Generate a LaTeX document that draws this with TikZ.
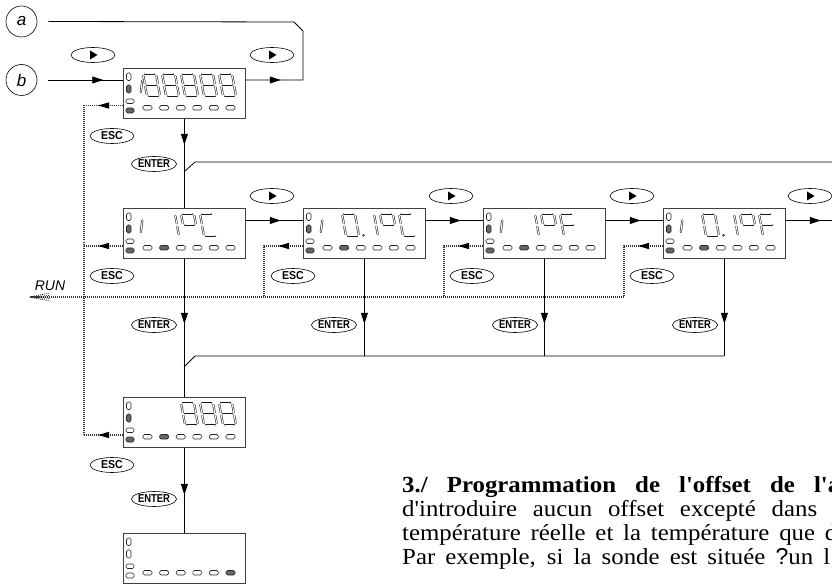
\documentclass[tikz,border=0pt]{standalone}
\usepackage{fontspec}
\setmainfont{Liberation Serif}[Ligatures=TeXOff]
\setsansfont{Liberation Sans}
\newfontfamily\btnfont{Liberation Sans}[FakeStretch=0.82]
\newfontfamily\escfont{Liberation Sans}[FakeStretch=0.92]
\usetikzlibrary{shapes.geometric,arrows.meta,decorations.markings}

\tikzset{
  dispbox/.style={draw=black!75, line width=0.8pt, minimum width=122pt, minimum height=50pt, inner sep=0pt, anchor=north west},
  btn/.style={ellipse, draw, line width=0.6pt, minimum width=44pt, minimum height=15pt, inner sep=0pt},
  enterbtn/.style={btn, font=\btnfont\bfseries\fontsize{11.5}{11.5}\selectfont},
  escbtn/.style={btn, font=\escfont\bfseries\fontsize{11.5}{11.5}\selectfont},
  circ/.style={circle, draw, line width=0.6pt, minimum size=31pt, inner sep=0pt, font=\sffamily\itshape\fontsize{17}{17}\selectfont},
  flow/.style={line width=0.8pt},
  flowarrow/.style={flow, postaction={decorate}, decoration={markings, mark=at position #1 with {\arrow{Triangle[length=11pt,width=7pt]}}}},
  escline/.style={draw=black!80, line width=1.1pt, dash pattern=on 1pt off 1pt},
  escarrow/.style={escline, postaction={decorate}, decoration={markings, mark=at position #1 with {\arrow[black]{Triangle[length=11pt,width=6pt]}}}},
  seg/.style={draw=black!90, line width=0.55pt, double=white, double distance=1pt, line cap=round},
  segdot/.style={draw=black!90, line width=0.55pt},
  ledo/.style={draw=black!85, line width=0.6pt, fill=white, rounded corners=1.5pt},
  ledf/.style={draw=black!85, line width=0.6pt, fill=black!60, rounded corners=1.5pt},
  txt/.style={anchor=base west, inner sep=0pt},
  bodyfont/.style={font=\fontsize{23}{24}\selectfont\addfontfeature{FakeStretch=1.08}},
  headfont/.style={font=\fontsize{23}{24}\selectfont\bfseries\addfontfeature{FakeStretch=1.08}},
}

\def\SGa{\draw[seg] (1.8,22) -- (11.2,22);}
\def\SGb{\draw[seg] (13,20.2) -- (13,12.7);}
\def\SGc{\draw[seg] (13,9.3) -- (13,1.8);}
\def\SGd{\draw[seg] (1.8,0) -- (11.2,0);}
\def\SGe{\draw[seg] (0,1.8) -- (0,9.3);}
\def\SGf{\draw[seg] (0,12.7) -- (0,20.2);}
\def\SGg{\draw[seg] (1.8,11) -- (11.2,11);}
\newcommand\sevdig[2]{\begin{scope}[shift={(#1,28)},yscale=-1,xslant=0.18]\foreach \s in {#2}{\csname SG\s\endcsname}\end{scope}}
\newcommand\smallone{\draw[seg] (17.8,24) -- (19.3,12.5);}
\newcommand\dpoint[1]{\draw[segdot] (#1,27.3) circle (0.9);}

\newcommand\disppanel[4]{%
\begin{scope}[shift={(#1.north west)}]
 \draw[ledo] (3.5,5) rectangle (8,12.5);
 \ifnum#2=1 \draw[ledf] (3.5,17) rectangle (8,25);\else\draw[ledo] (3.5,17) rectangle (8,25);\fi
 \draw[ledo] (3,31) rectangle (11,35.5);
 \ifnum#2=1 \draw[ledf] (3,40) rectangle (11,45);\else\draw[ledo] (3,40) rectangle (11,45);\fi
 \foreach \i in {1,...,6}{\pgfmathsetmacro\lx{20+16.6*(\i-1)}%
   \ifnum\i=#3 \draw[ledf] (\lx,37.5) rectangle ++(9,4.5);\else\draw[ledo] (\lx,37.5) rectangle ++(9,4.5);\fi}
 #4
\end{scope}}

\begin{document}
\begin{tikzpicture}[x=1pt,y=-1pt]
\useasboundingbox (0,0) rectangle (832,585);
\fill[white] (0,0) rectangle (832,585);
\clip (0,0) rectangle (832,585);

% displays
\node[dispbox] (d1) at (123,68) {};
\node[dispbox] (d2) at (123,208) {};
\node[dispbox] (d3) at (303,208) {};
\node[dispbox] (d4) at (483,208) {};
\node[dispbox] (d5) at (663,208) {};
\node[dispbox] (d6) at (123,397) {};
\node[dispbox] (d7) at (123,533) {};

\disppanel{d1}{1}{0}{\smallone\sevdig{24}{a,b,c,d,e,f,g}\sevdig{43}{a,b,c,d,e,f,g}\sevdig{62}{a,b,c,d,e,f,g}\sevdig{81}{a,b,c,d,e,f,g}\sevdig{100}{a,b,c,d,e,f,g}}
\disppanel{d2}{1}{2}{\smallone\sevdig{43}{b,c}\sevdig{62}{a,b,f,g}\sevdig{81}{a,d,e,f}}
\disppanel{d3}{1}{2}{\smallone\sevdig{43}{a,b,c,d,e,f}\dpoint{60.5}\sevdig{62}{b,c}\sevdig{81}{a,b,f,g}\sevdig{100}{a,d,e,f}}
\disppanel{d4}{1}{2}{\smallone\sevdig{43}{b,c}\sevdig{62}{a,b,f,g}\sevdig{81}{a,e,f,g}}
\disppanel{d5}{1}{2}{\smallone\sevdig{43}{a,b,c,d,e,f}\dpoint{60.5}\sevdig{62}{b,c}\sevdig{81}{a,b,f,g}\sevdig{100}{a,e,f,g}}
\disppanel{d6}{1}{2}{\sevdig{62}{a,b,c,d,e,f,g}\sevdig{81}{a,b,c,d,e,f,g}\sevdig{100}{a,b,c,d,e,f,g}}
\disppanel{d7}{0}{6}{}

% entry circles
\node[circ] (a) at (21.5,21.5) {a};
\node[circ] (b) at (21.5,80) {b};

% buttons
\foreach \n/\x/\y in {p0/93/55, p1/272/55, p2/272/196, p3/451/196, p4/632/196, p5/810/196}{
  \node[btn] (\n) at (\x,\y) {};
  \fill (\n.center) ++(-3,-4.5) -- ++(0,9) -- ++(7.5,-4.5) -- cycle;
}
\foreach \n/\x/\y in {e1/112/136, e2/112/276, e3/293/276, e4/472/276, e5/652/276, e6/112/465}{
  \node[escbtn] (\n) at (\x,\y) {ESC};
}
\foreach \n/\x/\y in {n1/154/164, n2/154/325, n3/334/325, n4/515/325, n5/695/325, n6/154/499}{
  \node[enterbtn] (\n) at (\x,\y) {ENTER};
}

% solid flows
\coordinate (aout) at ([xshift=11pt]a.east);
\coordinate (bout) at ([xshift=11pt]b.east);
\coordinate (d1in) at ([yshift=-12pt]d1.north west);
\coordinate (d1out) at ([yshift=-12pt]d1.north east);
\coordinate (c1) at (303,80);
\coordinate (c2) at (303,31);
\coordinate (c3) at (294,22);
\draw[flowarrow=55pt] (bout) -- (d1in);
\draw[flowarrow=35pt] (d1out) -- (c1) -- (c2) -- (c3) -- (aout);

\draw[flowarrow=26pt] (d1.south) -- (d2.north);
\coordinate (br1) at (184,172);
\coordinate (br2) at (195,162);
\coordinate (br3) at (832,162);
\draw[flow] (br1) -- (br2) -- (br3);

\foreach \s/\t in {d2/d3, d3/d4, d4/d5}{
  \draw[flowarrow=35pt] ([yshift=-12.5pt]\s.north east) -- ([yshift=-12.5pt]\t.north west);
}
\coordinate (rowend) at (832,220.5);
\draw[flowarrow=35pt] ([yshift=-12.5pt]d5.north east) -- (rowend);

\draw[flowarrow=65pt] (d2.south) -- (d6.north);
\coordinate (m1) at (184,367);
\coordinate (m2) at (195,356);
\coordinate (m3) at (724,356);
\draw[flow] (m1) -- (m2) -- (m3);
\foreach \s in {d3,d4,d5}{
  \draw[flowarrow=65pt] (\s.south) -- (\s.south |- m2);
}
\draw[flowarrow=47pt] (d6.south) -- (d7.north);

% ESC (dotted) flows
\coordinate (Lx) at (84,0);
\coordinate (Ry) at (0,297);
\coordinate (x1) at ([yshift=-37.5pt]d1.north west);
\coordinate (x2) at ([yshift=-38pt]d2.north west);
\coordinate (x6) at ([yshift=-38pt]d6.north west);
\draw[escarrow=25pt] (x1) -- (x1 -| Lx);
\draw[escarrow=25pt] (x2) -- (x2 -| Lx);
\draw[escarrow=25pt] (x6) -- (x6 -| Lx);
\draw[escline] (x1 -| Lx) -- (x6 -| Lx);
\foreach \d/\lx in {d3/264, d4/444, d5/624}{
  \coordinate (xs) at ([yshift=-38pt]\d.north west);
  \coordinate (xc) at (\lx,0);
  \draw[escarrow=25pt] (xs) -- (xs -| xc) -- (xc |- Ry);
}
\coordinate (runstart) at (624,297);
\coordinate (runtip) at (30,297);
\draw[escline] (runstart) -- (runtip);
\foreach \dy in {-4,-1.5,1.5,4}{
  \draw[escline, line width=0.8pt] (runtip) -- ++(20,\dy);
}
\node[font=\sffamily\itshape\fontsize{14}{14}\selectfont] (run) at (50,286) {RUN};

% text
\node[txt, headfont] (t1) at (402,492) {\makebox[438pt][s]{3./ Programmation de l'offset de l'a}};
\node[txt, bodyfont] (t2) at (402,516) {\makebox[415pt][s]{d'introduire aucun offset excepté dans}};
\node[txt, bodyfont] (t3) at (402,540) {\makebox[435pt][s]{température réelle et la température que d}};
\node[txt, bodyfont] (t4) at (402,564) {\makebox[428pt][s]{Par exemple, si la sonde est située {\sffamily ?}un l}};
\end{tikzpicture}
\end{document}
